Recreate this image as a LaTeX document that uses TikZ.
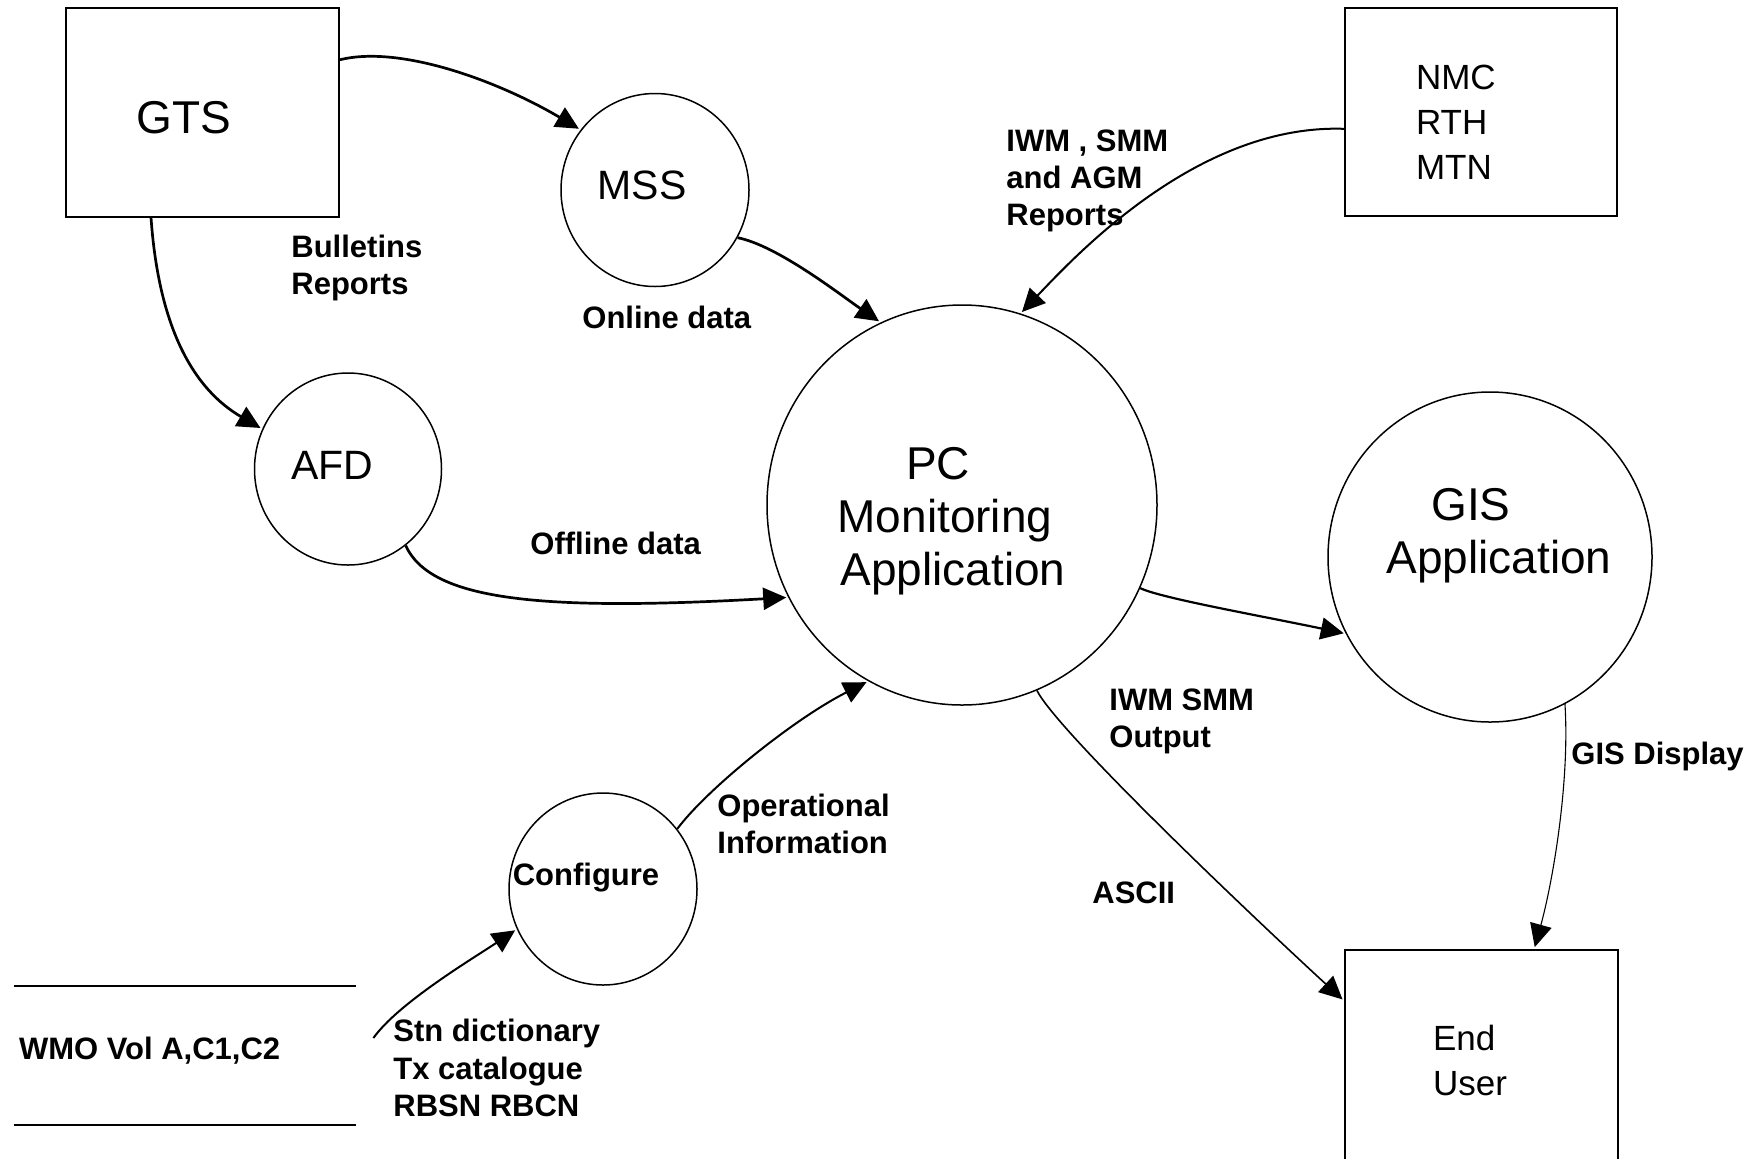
\documentclass[tikz,border=0pt]{standalone}
\usepackage{fontspec}
\setmainfont{Liberation Sans}
\usetikzlibrary{arrows.meta,shapes.geometric}
\newcommand{\ctxt}[3]{\makebox[0pt][l]{\hspace*{#1}\makebox[0pt]{\raisebox{#2}[0pt][0pt]{#3}}}}
\newcommand{\ltxt}[3]{\makebox[0pt][l]{\hspace*{#1}\raisebox{#2}[0pt][0pt]{#3}}}
\newcommand{\rowc}[1]{\begin{tabular}{@{}c@{}}#1\end{tabular}}
\newcommand{\rowl}[1]{\begin{tabular}{@{}l@{}}#1\end{tabular}}
\begin{document}
\begin{tikzpicture}[x=0.5pt,y=-0.5pt,
  box/.style={draw,line width=1pt,rectangle,inner sep=0pt},
  bubble/.style={draw,line width=0.75pt,ellipse,inner sep=0pt},
  bigf/.style={font=\fontsize{23pt}{26.5pt}\selectfont},
  midf/.style={font=\fontsize{20.5pt}{24pt}\selectfont},
  smallf/.style={font=\fontsize{17.5pt}{22.5pt}\selectfont},
  boldf/.style={font=\bfseries\fontsize{15.5pt}{18.6pt}\selectfont},
  lbl/.style={boldf,align=left,anchor=west,inner sep=0pt},
  flow/.style={-{Triangle[length=11.5pt,width=11pt]},shorten >=1pt}]
\useasboundingbox (0,0) rectangle (1764,1158);
\fill[white] (0,0) rectangle (1764,1158);
\clip (0,0) rectangle (1764,1158);

% process / entity nodes
\node[box,bigf,minimum width=136.5pt,minimum height=104.5pt] (gts) at (202.5,112.5) {\ctxt{-9.25pt}{-11.4pt}{\rowc{GTS}}};
\node[bubble,midf,minimum width=94pt,minimum height=96.5pt] (mss) at (655,190) {\ctxt{-6.5pt}{-5.2pt}{\rowc{MSS}}};
\node[box,smallf,minimum width=136pt,minimum height=104pt] (nmc) at (1481,112) {\ltxt{-32.5pt}{-11.1pt}{\rowl{NMC\\RTH\\MTN}}};
\node[bubble,midf,minimum width=93.5pt,minimum height=96pt] (afd) at (348,469) {\ctxt{-8pt}{-5.7pt}{\rowc{AFD}}};
\node[bubble,bigf,minimum width=195pt,minimum height=200pt] (pc) at (962,505) {\ctxt{-4.5pt}{-14.9pt}{\rowc{PC\hspace*{15pt}\\Monitoring\hspace*{8pt}\\Application}}};
\node[bubble,bigf,minimum width=162pt,minimum height=165pt] (gis) at (1490,557) {\ctxt{4.5pt}{4.1pt}{\rowc{GIS\hspace*{28pt}\\Application}}};
\node[bubble,boldf,minimum width=94pt,minimum height=96pt] (conf) at (603,889) {\ctxt{-8.5pt}{2pt}{\rowc{Configure}}};
\node[box,smallf,minimum width=136.5pt,minimum height=112pt] (eu) at (1481.5,1062) {\ltxt{-24.25pt}{-5.4pt}{\rowl{End\\User}}};
\node[boldf,inner sep=0pt,minimum width=171pt,minimum height=69.5pt] (wmo) at (185,1055.5) {\ltxt{-83pt}{-2pt}{\rowl{WMO Vol A,C1,C2}}};
\draw[line width=1pt] (wmo.north west) -- (wmo.north east) (wmo.south west) -- (wmo.south east);

% flow labels
\node[lbl] (lbul) at (291,268) {Bulletins\\Reports};
\node[lbl] (lonl) at (582,317) {Online data};
\node[lbl] (liwm) at (1006,181) {IWM , SMM\\and AGM\\Reports};
\node[lbl] (loff) at (530,543) {Offline data};
\node[lbl] (lout) at (1109,721) {IWM SMM\\Output};
\node[lbl] (lgis) at (1571,756) {GIS Display};
\node[lbl] (lop) at (717,824) {Operational\\Information};
\node[lbl] (lasc) at (1092,893) {ASCII};
\node[lbl] (lstn) at (393,1068) {Stn dictionary\\Tx catalogue\\RBSN RBCN};

% flows
\coordinate (wmoout) at ([shift={(17,-17.5)}]wmo.east);
\draw[flow,line width=1.35pt] (gts.21) .. controls +(61,-15) and +(-81,-48) .. (mss.141);
\draw[flow,line width=1.35pt] (gts.244) .. controls +(8,113) and +(-67,-39) .. (afd.155);
\draw[flow,line width=1.35pt] (mss.-30) .. controls +(40,8) and +(-41,-28) .. (pc.114);
\draw[flow,line width=1pt] (nmc.187) .. controls +(-145,-5) and +(57,-60) .. (pc.73);
\draw[flow,line width=1.35pt] (afd.-53) .. controls +(25,55) and +(-248,14) .. (pc.208);
\draw[flow,line width=1.1pt] (pc.-25) .. controls +(20,10) and +(-80,-17) .. (gis.208);
\draw[flow,line width=0.8pt] (pc.-68) .. controls +(20,40) and +(-100,-92) .. (eu.156);
\draw[flow,line width=0.55pt] (gis.-63) .. controls +(5,80) and +(18,-65) .. (eu.65);
\draw[flow,line width=1pt] (conf.39) .. controls +(30,-40) and +(-75,38) .. (pc.242);
\draw[flow,line width=1pt] (wmoout) .. controls +(25,-35) and +(-45,30) .. (conf.205);
\end{tikzpicture}
\end{document}
